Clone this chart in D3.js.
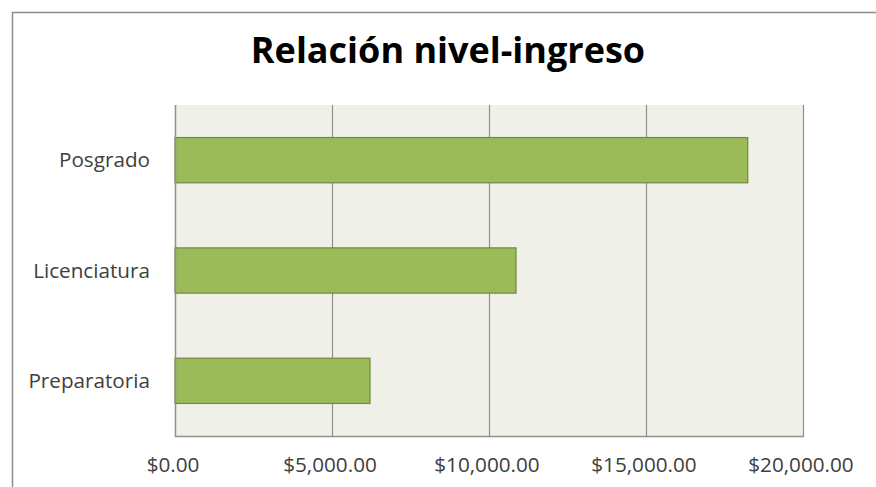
<!DOCTYPE html>
<html lang="es">
<head>
    <meta charset="UTF-8">
    <title>Relación nivel-ingreso</title>
    <style>
        body { margin: 0; background: #fff; }
        .titulo { font-family: 'Open Sans', sans-serif; font-weight: bold; font-size: 36px; fill: #000; }
        .etiqueta { font-family: 'Open Sans', sans-serif; font-size: 20.7px; fill: #404040; }
    </style>
</head>
<body>
    <svg width="876" height="487"></svg>

    <script src="https://d3js.org/d3.v7.min.js"></script>
    <script>
        // Datos
        const niveles = ['Posgrado', 'Licenciatura', 'Preparatoria'];
        const ingresos = [18240, 10860, 6210];
        const ticksX = [0, 5000, 10000, 15000, 20000];

        const width = 876;
        const height = 487;
        const margen = { left: 175, top: 105, right: 803, bottom: 436 };

        const svg = d3.select('svg');

        // borde del gráfico
        svg.append('path')
            .attr('d', `M12.5,${height} V12.5 H${width}`)
            .attr('fill', 'none')
            .attr('stroke', '#8c8c8c')
            .attr('stroke-width', 1.5);

        const x = d3.scaleLinear()
            .domain([0, 20000])
            .range([margen.left, margen.right]);

        const y = d3.scaleBand()
            .domain(niveles)
            .range([margen.top, margen.bottom])
            .paddingInner(0.59)
            .paddingOuter(0.295);

        // fondo del área de trazado
        svg.append('rect')
            .attr('x', margen.left)
            .attr('y', margen.top)
            .attr('width', margen.right - margen.left)
            .attr('height', margen.bottom - margen.top)
            .attr('fill', '#eff1e9');

        // líneas de cuadrícula
        svg.selectAll('.grid')
            .data(ticksX.slice(1))
            .enter().append('line')
            .attr('x1', d => x(d) + 0.5)
            .attr('x2', d => x(d) + 0.5)
            .attr('y1', margen.top)
            .attr('y2', margen.bottom)
            .attr('stroke', '#8f8f8f')
            .attr('stroke-width', 1.2);

        // barras
        svg.selectAll('.bar')
            .data(niveles)
            .enter().append('rect')
            .attr('x', x(0))
            .attr('y', d => y(d))
            .attr('width', (d, i) => x(ingresos[i]) - x(0))
            .attr('height', y.bandwidth())
            .attr('fill', '#9bbb59')
            .attr('stroke', '#71893f')
            .attr('stroke-width', 1.2);

        // ejes
        svg.append('line')
            .attr('x1', margen.left + 0.5).attr('x2', margen.left + 0.5)
            .attr('y1', margen.top).attr('y2', margen.bottom + 1)
            .attr('stroke', '#8f8f8f').attr('stroke-width', 1.5);
        svg.append('line')
            .attr('x1', margen.left).attr('x2', margen.right + 1)
            .attr('y1', margen.bottom + 0.5).attr('y2', margen.bottom + 0.5)
            .attr('stroke', '#8f8f8f').attr('stroke-width', 1.5);

        // etiquetas del eje X
        const formato = d3.format('$,.2f');
        svg.selectAll('.tickx')
            .data(ticksX)
            .enter().append('text')
            .attr('class', 'etiqueta')
            .attr('x', d => x(d) - 2)
            .attr('y', 472)
            .attr('text-anchor', 'middle')
            .text(d => formato(d));

        // etiquetas del eje Y
        svg.selectAll('.ticky')
            .data(niveles)
            .enter().append('text')
            .attr('class', 'etiqueta')
            .attr('x', 150)
            .attr('y', d => y(d) + y.bandwidth() / 2 + 7)
            .attr('text-anchor', 'end')
            .text(d => d);

        // título
        svg.append('text')
            .attr('class', 'titulo')
            .attr('x', 448)
            .attr('y', 63)
            .attr('text-anchor', 'middle')
            .text('Relación nivel-ingreso');
    </script>
</body>
</html>
